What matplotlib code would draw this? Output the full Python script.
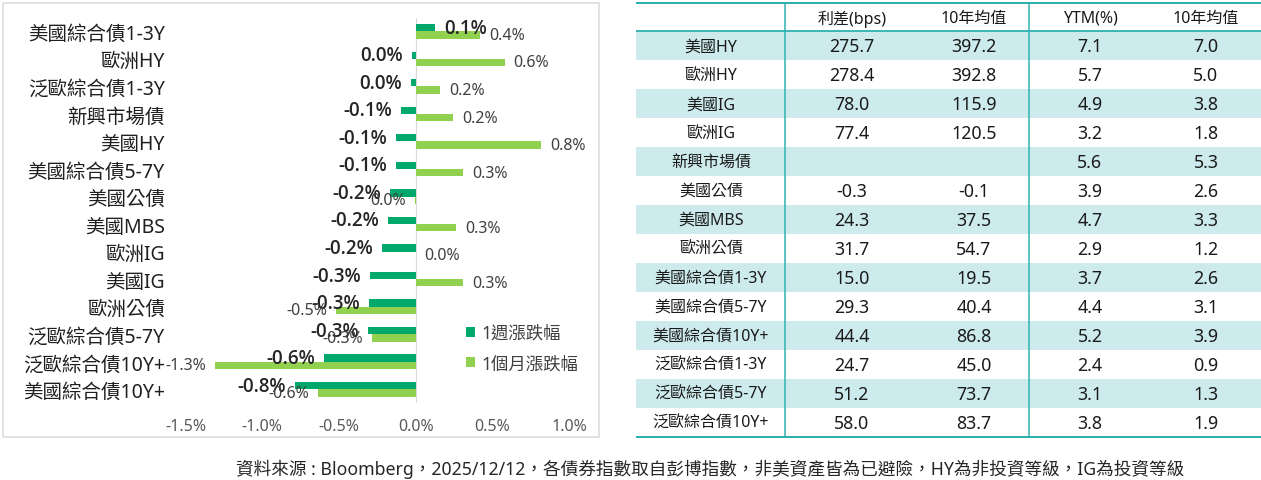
import matplotlib
matplotlib.use("Agg")
import matplotlib.pyplot as plt
from matplotlib.patches import Rectangle
import numpy as np

plt.rcParams['font.family'] = ['Noto Sans', 'Noto Sans CJK TC', 'DejaVu Sans']

# ---------------- data ----------------
categories = ["美國綜合債1-3Y", "歐洲HY", "泛歐綜合債1-3Y", "新興市場債", "美國HY",
              "美國綜合債5-7Y", "美國公債", "美國MBS", "歐洲IG", "美國IG",
              "歐洲公債", "泛歐綜合債5-7Y", "泛歐綜合債10Y+", "美國綜合債10Y+"]
week_chg = [0.126, -0.026, -0.033, -0.096, -0.128, -0.128, -0.168, -0.18, -0.22,
            -0.30, -0.304, -0.311, -0.598, -0.787]
month_chg = [0.42, 0.58, 0.16, 0.246, 0.817, 0.31, -0.004, 0.265, 0.0, 0.31,
             -0.52, -0.285, -1.31, -0.637]
series_names = ["1週漲跌幅", "1個月漲跌幅"]
xticks = [-1.5, -1.0, -0.5, 0.0, 0.5, 1.0]

table_header = ["", "利差(bps)", "10年均值", "YTM(%)", "10年均值"]
table_rows = ["美國HY", "歐洲HY", "美國IG", "歐洲IG", "新興市場債", "美國公債", "美國MBS",
              "歐洲公債", "美國綜合債1-3Y", "美國綜合債5-7Y", "美國綜合債10Y+",
              "泛歐綜合債1-3Y", "泛歐綜合債5-7Y", "泛歐綜合債10Y+"]
spread = [275.7, 278.4, 78.0, 77.4, None, -0.3, 24.3, 31.7, 15.0, 29.3, 44.4, 24.7, 51.2, 58.0]
spread_10y = [397.2, 392.8, 115.9, 120.5, None, -0.1, 37.5, 54.7, 19.5, 40.4, 86.8, 45.0, 73.7, 83.7]
ytm = [7.1, 5.7, 4.9, 3.2, 5.6, 3.9, 4.7, 2.9, 3.7, 4.4, 5.2, 2.4, 3.1, 3.8]
ytm_10y = [7.0, 5.0, 3.8, 1.8, 5.3, 2.6, 3.3, 1.2, 2.6, 3.1, 3.9, 0.9, 1.3, 1.9]

footer = "資料來源 : Bloomberg，2025/12/12，各債券指數取自彭博指數，非美資產皆為已避險，HY為非投資等級，IG為投資等級"

# ---------------- styling ----------------
W, H = 1261, 481
DARK = "#00A86B"
LIGHT = "#92D050"
TEAL = "#2DB1B1"
FILL = "#CDEBEC"
PX = 0.72  # points per pixel at dpi 100

fig = plt.figure(figsize=(W / 100, H / 100), dpi=100)

# overlay axes in pixel coordinates for frame, table, footer
ov = fig.add_axes([0, 0, 1, 1])
ov.set_xlim(0, W)
ov.set_ylim(H, 0)
ov.axis('off')
ov.patch.set_alpha(0)

# left panel border
ov.add_patch(Rectangle((3.3, 4.3), 598.7 - 3.3, 437.7 - 4.3, fill=False,
                       edgecolor="#D9D9D9", lw=1.5 * PX))

# ---------------- bar chart ----------------
ax = fig.add_axes([185.6 / W, 1 - 404.1 / H, (569 - 185.6) / W, (404.1 - 18.5) / H])
ax.patch.set_alpha(0)
y = np.arange(len(categories))
bh = 0.265
b1 = ax.barh(y - bh / 2, week_chg, height=bh, color=DARK, label=series_names[0], zorder=3)
b2 = ax.barh(y + bh / 2, month_chg, height=bh, color=LIGHT, label=series_names[1], zorder=3)
ax.set_xlim(-1.5, 1.0)
ax.set_ylim(len(categories) - 0.5, -0.5)
ax.axvline(0, color="#D9D9D9", lw=1.2 * PX, zorder=1)
for s in ax.spines.values():
    s.set_visible(False)
ax.set_yticks(y)
ax.set_yticklabels(categories, fontsize=14, color="#1f1f1f")
ax.set_xticks(xticks)
ax.set_xticklabels([f"{t:.1f}%" for t in xticks], fontsize=11.5, color="#595959")
ax.tick_params(axis='y', length=0, pad=15)
ax.tick_params(axis='x', length=0, pad=11)


def fmt(v):
    s = f"{v:.1f}%"
    return "0.0%" if s == "-0.0%" else s


for vals, yy, fs, fw, col, fam in [
        (week_chg, y - bh / 2, 13.5, 'semibold', "#262626", ['Open Sans', 'Noto Sans', 'DejaVu Sans']),
        (month_chg, y + bh / 2, 11.5, 'normal', "#404040", ['Noto Sans', 'DejaVu Sans'])]:
    for v, yv in zip(vals, yy):
        off = 6.5 if v >= 0 else -6.5
        ax.annotate(fmt(v), xy=(v, yv), xytext=(off, 0), textcoords='offset points',
                    ha='left' if v >= 0 else 'right', va='center', fontsize=fs,
                    fontweight=fw, family=fam, color=col, zorder=5)

leg = ax.legend(handles=[b1, b2], loc='upper left',
                bbox_to_anchor=(466 / W, 1 - 325 / H), bbox_transform=fig.transFigure,
                frameon=False, fontsize=12.5, handlelength=0.53, handleheight=0.53,
                handletextpad=0.35, labelspacing=0.7, borderpad=0, borderaxespad=0,
                labelcolor="#404040")

# ---------------- table ----------------
tx0, tx1 = 636, 1261
top = 3.5
head_bot = 32.3
rh = 28.96
col_x = [711, 852, 974, 1090, 1206]
vlines = [784.6, 1028.8]
n = len(table_rows)
bottom = head_bot + n * rh

for i in range(n):
    if i % 2 == 0:
        ov.add_patch(Rectangle((tx0, head_bot + i * rh), tx1 - tx0, rh,
                               facecolor=FILL, edgecolor='none', zorder=1))

for j, h in enumerate(table_header):
    if h:
        ov.text(col_x[j], (top + head_bot) / 2 + 1, h, ha='center', va='center',
                fontsize=11.5, color="#1a1a1a", zorder=3)


def num(v):
    return "" if v is None else f"{v:.1f}"


for i in range(n):
    yc = head_bot + (i + 0.5) * rh + 0.5
    ov.text(col_x[0], yc, table_rows[i], ha='center', va='center', fontsize=11.5,
            color="#1a1a1a", zorder=3)
    for j, arr in enumerate([spread, spread_10y, ytm, ytm_10y], start=1):
        ov.text(col_x[j], yc, num(arr[i]), ha='center', va='center', fontsize=12.8,
                color="#1a1a1a", zorder=3)

ov.plot([tx0, tx1], [top, top], color=TEAL, lw=2 * PX, zorder=4, solid_capstyle='butt')
ov.plot([tx0, tx1], [head_bot, head_bot], color=TEAL, lw=1.8 * PX, zorder=4, solid_capstyle='butt')
ov.plot([tx0, tx1], [bottom, bottom], color=TEAL, lw=2 * PX, zorder=4, solid_capstyle='butt')
for vx in vlines:
    ov.plot([vx, vx], [top, bottom], color=TEAL, lw=1.5 * PX, zorder=4, solid_capstyle='butt')

# footer
ov.text(236, 469, footer, ha='left', va='center', fontsize=12.7, color="#262626")

fig.savefig("out.png", dpi=100)
